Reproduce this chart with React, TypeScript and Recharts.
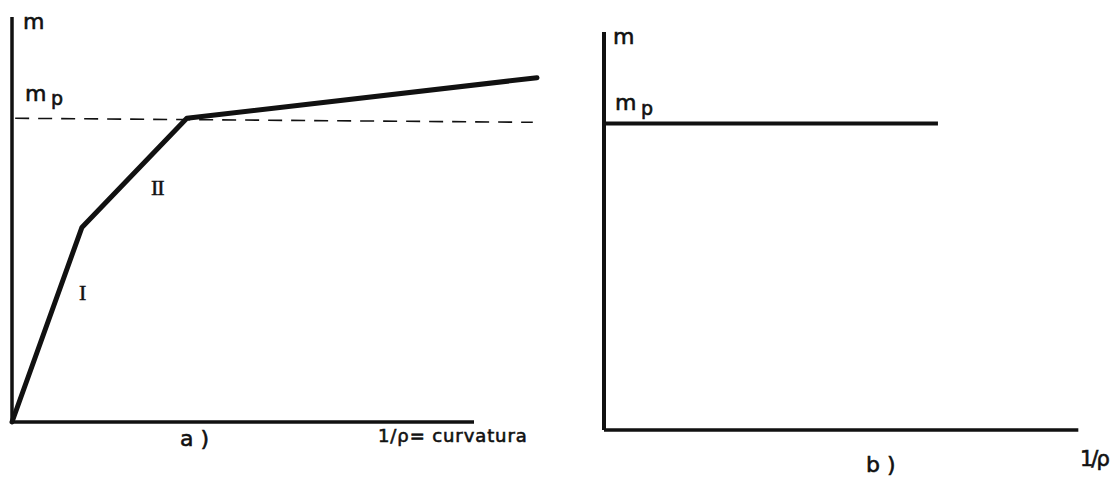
import { LineChart, Line, XAxis, YAxis, ReferenceLine } from "recharts";

// a) moment–curvature law with two linear branches (I, II) and hardening beyond m_p
const curvatureA = [0, 13.3, 33.3, 100];
const momentA = [0, 48, 75, 85];
const mpA = 75;
const xAxisEndA = 88;
const yAxisEndA = 100;

// b) ideal rigid-plastic law: constant m_p
const curvatureB = [0, 69];
const momentB = [77, 77];
const xAxisEndB = 98;
const yAxisEndB = 100;

const dataA = curvatureA.map((c, i) => ({ c, m: momentA[i] }));
const dataB = curvatureB.map((c, i) => ({ c, m: momentB[i] }));

const INK = "#111";
const LETTER = "'DejaVu Sans', sans-serif";
const ROMAN = "'Liberation Serif', serif";

export default function App() {
  return (
    <div style={{ position: "fixed", left: 0, top: 0, width: 1113, height: 480, background: "#fff" }}>
      {/* panel a */}
      <div style={{ position: "absolute", left: 0, top: 0 }}>
        <LineChart width={560} height={480} data={dataA} margin={{ top: 17, left: 12, right: 23, bottom: 58 }}>
          <XAxis dataKey="c" type="number" domain={[0, 100]} hide />
          <YAxis type="number" domain={[0, 100]} hide />
          <ReferenceLine
            segment={[{ x: 0, y: 0 }, { x: xAxisEndA, y: 0 }]}
            stroke={INK}
            strokeWidth={3.5}
            ifOverflow="visible"
          />
          <ReferenceLine
            segment={[{ x: 0, y: 0 }, { x: 0, y: yAxisEndA }]}
            stroke={INK}
            strokeWidth={3.5}
            ifOverflow="visible"
          />
          <ReferenceLine
            segment={[{ x: 0.6, y: mpA }, { x: 99.2, y: mpA - 1 }]}
            stroke={INK}
            strokeWidth={1.6}
            strokeDasharray="14 9"
            ifOverflow="visible"
          />
          <Line
            type="linear"
            dataKey="m"
            stroke={INK}
            strokeWidth={5}
            strokeLinejoin="round"
            strokeLinecap="round"
            dot={false}
            isAnimationActive={false}
          />
        </LineChart>
      </div>

      {/* panel b */}
      <div style={{ position: "absolute", left: 560, top: 0 }}>
        <LineChart width={553} height={480} data={dataB} margin={{ top: 32, left: 44, right: 25, bottom: 50 }}>
          <XAxis dataKey="c" type="number" domain={[0, 100]} hide />
          <YAxis type="number" domain={[0, 100]} hide />
          <ReferenceLine
            segment={[{ x: 0, y: 0 }, { x: xAxisEndB, y: 0 }]}
            stroke={INK}
            strokeWidth={3.5}
            ifOverflow="visible"
          />
          <ReferenceLine
            segment={[{ x: 0, y: 0 }, { x: 0, y: yAxisEndB }]}
            stroke={INK}
            strokeWidth={4}
            ifOverflow="visible"
          />
          <Line
            type="linear"
            dataKey="m"
            stroke={INK}
            strokeWidth={4}
            dot={false}
            isAnimationActive={false}
          />
        </LineChart>
      </div>

      {/* lettering */}
      <svg width={1113} height={480} style={{ position: "absolute", left: 0, top: 0, pointerEvents: "none" }}>
        <g fill={INK} stroke={INK} strokeWidth={0.6} fontFamily={LETTER}>
          <text x={23} y={29} fontSize={22}>m</text>
          <text x={25} y={101} fontSize={22}>m</text>
          <text x={51} y={105} fontSize={19}>p</text>
          <text x={180} y={446} fontSize={22}>a )</text>
          <text x={378} y={442} fontSize={18} letterSpacing={0.9}>1/ρ= curvatura</text>

          <text x={613} y={44} fontSize={22}>m</text>
          <text x={615} y={110} fontSize={22}>m</text>
          <text x={641} y={115} fontSize={19}>p</text>
          <text x={866} y={472} fontSize={22}>b )</text>
          <text x={1080} y={466} fontSize={21} letterSpacing={-2}>1/ρ</text>
        </g>
        <g fill={INK} stroke={INK} strokeWidth={0.5} fontFamily={ROMAN}>
          <text x={151} y={195} fontSize={22} letterSpacing={-1}>II</text>
          <text x={79} y={300} fontSize={22}>I</text>
        </g>
      </svg>
    </div>
  );
}
